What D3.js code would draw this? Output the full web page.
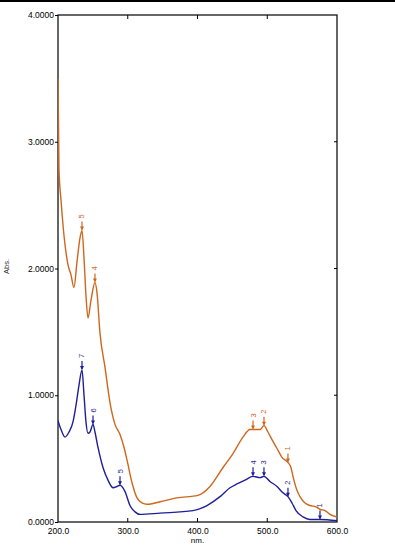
<!DOCTYPE html>
<html><head><meta charset="utf-8">
<script src="https://cdn.jsdelivr.net/npm/d3@7"></script>
<style>
html,body{margin:0;padding:0;background:#fff;}
svg{display:block;}
text{font-family:"Liberation Sans",Arial,sans-serif;}
</style></head>
<body>
<script>
// ---- data ----
const xTicks = [200, 300, 400, 500, 600];
const xTickLabels = ["200.0", "300.0", "400.0", "500.0", "600.0"];
const yTicks = [0, 1, 2, 3, 4];
const yTickLabels = ["0.0000", "1.0000", "2.0000", "3.0000", "4.0000"];
const xTitle = "nm.";
const yTitle = "Abs.";

const orangeNm  = [200, 201.4, 204.3, 208.6, 214.3, 218.6, 222.9, 227.2, 231.5, 234.4, 237.3, 240.1, 243.0, 247.3, 253.0, 255.9, 260.2, 267.4, 274.6, 281.7, 288.9, 294.6, 298.9, 306.1, 313.3, 320.4, 327.6, 346.2, 370.6, 400.7, 417.9, 436.6, 450.9, 465.2, 475.3, 479.6, 489.6, 495.3, 501.0, 506.8, 514.0, 521.1, 529.7, 534.0, 536.9, 542.6, 547.0, 554.1, 561.3, 569.9, 575.6, 582.8, 589.9, 600];
const orangeAbs = [3.50, 2.78, 2.54, 2.26, 2.03, 1.95, 1.85, 2.05, 2.24, 2.30, 2.08, 1.79, 1.61, 1.75, 1.89, 1.81, 1.49, 1.22, 0.94, 0.77, 0.69, 0.59, 0.49, 0.31, 0.19, 0.15, 0.14, 0.16, 0.19, 0.21, 0.28, 0.43, 0.54, 0.67, 0.73, 0.73, 0.73, 0.76, 0.71, 0.65, 0.58, 0.51, 0.47, 0.43, 0.36, 0.25, 0.20, 0.15, 0.13, 0.12, 0.10, 0.09, 0.06, 0.04];

const blueNm  = [200, 204.3, 210.0, 215.8, 221.5, 225.8, 230.1, 234.4, 237.3, 240.1, 243.0, 245.9, 250.2, 253.0, 257.3, 264.5, 271.7, 278.9, 284.6, 288.9, 296.1, 303.2, 310.4, 317.6, 346.2, 393.5, 413.6, 432.3, 446.6, 456.6, 468.1, 479.6, 489.6, 495.3, 503.9, 514.0, 522.6, 529.7, 535.5, 541.2, 551.3, 561.3, 575.6, 600];
const blueAbs = [0.80, 0.73, 0.67, 0.71, 0.79, 0.92, 1.08, 1.20, 1.00, 0.79, 0.70, 0.71, 0.77, 0.71, 0.59, 0.43, 0.33, 0.27, 0.28, 0.29, 0.24, 0.13, 0.08, 0.06, 0.07, 0.09, 0.13, 0.20, 0.27, 0.30, 0.33, 0.36, 0.35, 0.36, 0.32, 0.28, 0.23, 0.20, 0.15, 0.09, 0.04, 0.02, 0.02, 0.01];

const orangePeakNm  = [529.7, 495.3, 479.6, 253.0, 234.4];
const orangePeakAbs = [0.47, 0.76, 0.73, 1.89, 2.30];
const orangePeakLbl = ["1", "2", "3", "4", "5"];

const bluePeakNm  = [575.6, 529.7, 495.3, 479.6, 288.9, 250.2, 234.4];
const bluePeakAbs = [0.02, 0.20, 0.36, 0.36, 0.29, 0.77, 1.20];
const bluePeakLbl = ["1", "2", "3", "4", "5", "6", "7"];

const orangeColor = "#d0661c";
const blueColor = "#1e1e9a";

// ---- layout ----
const W = 395, H = 546;
const pL = 58, pR = 337, pT = 15, pB = 522;

const svg = d3.select("body").append("svg").attr("width", W).attr("height", H);

const x = d3.scaleLinear().domain([200, 600]).range([pL, pR]);
const y = d3.scaleLinear().domain([0, 4]).range([pB, pT]);

// top rule of page
svg.append("line").attr("x1", 0).attr("x2", W).attr("y1", 1).attr("y2", 1)
  .attr("stroke", "#000").attr("stroke-width", 2);

// frame
svg.append("rect").attr("x", pL).attr("y", pT).attr("width", pR - pL).attr("height", pB - pT)
  .attr("fill", "none").attr("stroke", "#000").attr("stroke-width", 1.2);

// axes
const fs = "8.5px";
const yAxis = d3.axisLeft(y).tickValues(yTicks).tickFormat((d, i) => yTickLabels[i]).tickSize(3).tickPadding(1);
const gy = svg.append("g").attr("transform", `translate(${pL},0)`).call(yAxis);
gy.select(".domain").remove();
gy.selectAll("text").attr("font-size", fs).attr("fill", "#000").style("font-family", '"Liberation Sans",Arial,sans-serif');

const xAxis = d3.axisBottom(x).tickValues(xTicks).tickFormat((d, i) => xTickLabels[i]).tickSize(0).tickPadding(6);
const gx = svg.append("g").attr("transform", `translate(0,${pB})`).call(xAxis);
gx.select(".domain").remove();
gx.selectAll("text").attr("font-size", fs).attr("fill", "#000").style("font-family", '"Liberation Sans",Arial,sans-serif');

// inner ticks bottom/top
const innerX = xTicks.slice(1, -1);
svg.append("g").selectAll("line").data(innerX).join("line")
  .attr("x1", d => x(d)).attr("x2", d => x(d)).attr("y1", pB).attr("y2", pB - 4)
  .attr("stroke", "#000");
svg.append("g").selectAll("line").data(innerX).join("line")
  .attr("x1", d => x(d)).attr("x2", d => x(d)).attr("y1", pT).attr("y2", pT + 4)
  .attr("stroke", "#000");
// inner ticks right
svg.append("g").selectAll("line").data(yTicks.slice(1, -1)).join("line")
  .attr("x1", pR).attr("x2", pR - 3).attr("y1", d => y(d)).attr("y2", d => y(d))
  .attr("stroke", "#000");

// titles
svg.append("text").attr("x", x(400)).attr("y", 543).attr("text-anchor", "middle")
  .attr("font-size", "8px").text(xTitle);
svg.append("text").attr("transform", `translate(9,${y(2) - 2}) rotate(-90)`).attr("text-anchor", "middle")
  .attr("font-size", "7.5px").attr("fill", "#333").text(yTitle);

// curves
const line = d3.line().x(d => x(d[0])).y(d => y(d[1])).curve(d3.curveMonotoneX);
svg.append("clipPath").attr("id", "clip").append("rect")
  .attr("x", pL).attr("y", pT).attr("width", pR - pL).attr("height", pB - pT);

svg.append("path").datum(blueNm.map((v, i) => [v, blueAbs[i]]))
  .attr("d", line).attr("fill", "none").attr("stroke", blueColor).attr("stroke-width", 1.4)
  .attr("clip-path", "url(#clip)");
svg.append("path").datum(orangeNm.map((v, i) => [v, orangeAbs[i]]))
  .attr("d", line).attr("fill", "none").attr("stroke", orangeColor).attr("stroke-width", 1.4)
  .attr("clip-path", "url(#clip)");

// peak markers
function peaks(nm, abs, lbl, color) {
  const g = svg.append("g");
  nm.forEach((v, i) => {
    const px = x(v), py = y(abs[i]);
    g.append("line").attr("x1", px).attr("x2", px).attr("y1", py - 9).attr("y2", py - 1)
      .attr("stroke", color).attr("stroke-width", 1.2);
    g.append("path").attr("d", `M${px - 2},${py - 4}L${px + 2},${py - 4}L${px},${py}Z`).attr("fill", color);
    g.append("text").attr("transform", `translate(${px + 2.5},${py - 14}) rotate(-90)`)
      .attr("text-anchor", "middle").attr("font-size", "7.5px").attr("fill", color).text(lbl[i]);
  });
}
peaks(orangePeakNm, orangePeakAbs, orangePeakLbl, orangeColor);
peaks(bluePeakNm, bluePeakAbs, bluePeakLbl, blueColor);
</script>
</body></html>
